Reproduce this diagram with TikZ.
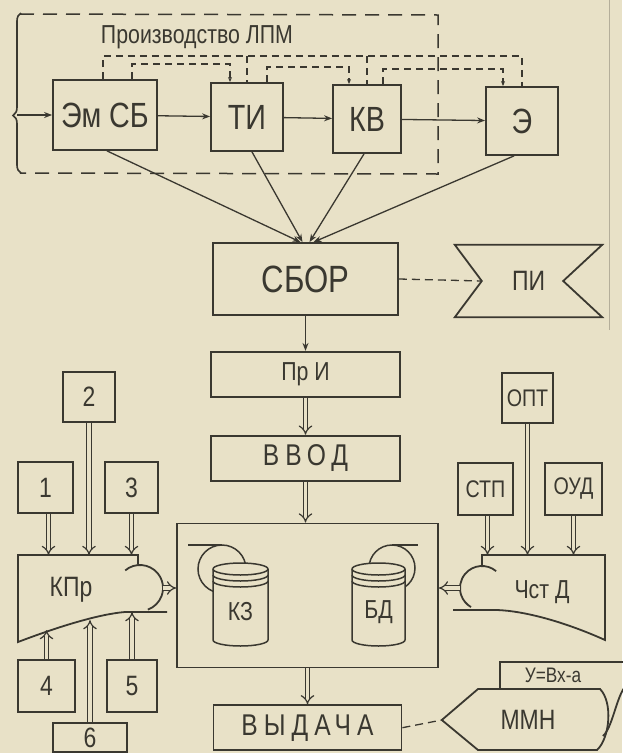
\documentclass[tikz,border=0pt]{standalone}
\usepackage{fontspec}
\setmainfont{Liberation Sans}[FakeStretch=0.82]
\newfontfamily\spacedfont{Liberation Sans}[FakeStretch=0.82, LetterSpace=20]
\usepackage{tikz}
\usetikzlibrary{arrows.meta, positioning, decorations.pathreplacing}
\definecolor{paper}{RGB}{232,225,199}
\definecolor{ink}{RGB}{58,56,48}
\tikzset{
  unitbox/.style={rectangle, draw=ink, fill=paper, text=ink,
    inner sep=0pt, align=center, line width=1.8pt},
  toptext/.style={font=\fontsize{35}{38}\selectfont},
  sbortext/.style={font=\fontsize{38}{40}\selectfont},
  midtext/.style={font=\fontsize{28}{30}\selectfont},
  smalltext/.style={font=\fontsize{26}{28}\selectfont},
  tinytext/.style={font=\fontsize{24}{26}\selectfont},
  spacedtext/.style={font=\spacedfont\fontsize{30}{32}\selectfont},
  shapeline/.style={draw=ink, line width=1.8pt},
  arrow/.style={-{Stealth[length=8pt,width=6pt]}, line width=1.3pt, color=ink},
  fbline/.style={dash pattern=on 7pt off 5pt, line width=1.3pt, color=ink},
  fbarrow/.style={fbline, -{Stealth[length=5pt,width=4pt]}},
  linkline/.style={dash pattern=on 8pt off 5pt, line width=1.3pt, color=ink},
  dblarrow/.style={-{Implies}, double=paper, double distance=3.5pt,
    line width=1.2pt, color=ink}
}

\begin{document}
\begin{tikzpicture}[x=1pt, y=-1pt,
  groupline/.style={dash pattern=on 14pt off 9pt, line width=1.5pt, color=ink},
  cyl/.style={draw=ink, fill=paper, line width=1.5pt}
]
  \fill[paper] (0,0) rectangle (622,753);
  \useasboundingbox (0,0) rectangle (622,753);
  \draw[ink!30!paper, line width=1pt] (609,0) -- (609,330);

  % production of LPM
  \draw[groupline] (20,14) -- (438,15) -- (438,174) -- (20,173);
  \draw[ink, line width=1.6pt, decorate,
    decoration={brace, amplitude=8pt, aspect=0.36}] (21,173) -- (21,13);
  \coordinate (lpm) at (17,115);
  \node[text=ink, font=\fontsize{26}{28}\selectfont] (lpmtitle) at (197,37) {Производство ЛПМ};

  \coordinate (busA) at (0,56);
  \node[unitbox, toptext, minimum width=104pt, minimum height=70pt] (emsb) at (105,115) {Эм СБ};
  \node[unitbox, toptext, minimum width=72pt, minimum height=68pt] (ti) at (247,117) {ТИ};
  \node[unitbox, toptext, minimum width=68pt, minimum height=68pt] (kv) at (367,119) {КВ};
  \node[unitbox, toptext, minimum width=72pt, minimum height=68pt] (ekt) at (522,121) {Э};

  \draw[fbline] ([xshift=-2pt]emsb.north) |- (ekt.north |- busA) -- (ekt.north);
  \draw[fbline] (ti.north |- busA) -- (ti.north);
  \draw[fbline] (kv.north |- busA) -- (kv.north);
  \draw[fbarrow] ([xshift=27pt]emsb.north) -- ++(0,-15) -| ([xshift=-17pt]ti.north);
  \draw[fbarrow] ([xshift=20pt]ti.north) -- ++(0,-15) -| ([xshift=-18pt]kv.north);
  \draw[fbarrow] ([xshift=16pt]kv.north) -- ++(0,-15) -| ([xshift=-19pt]ekt.north);

  \draw[arrow] (lpm) -- (emsb);
  \draw[arrow] (emsb) -- (ti);
  \draw[arrow] (ti) -- (kv);
  \draw[arrow] (kv) -- (ekt);

  % collection
  \node[unitbox, sbortext, minimum width=185pt, minimum height=72pt] (sbor) at (305.5,279) {СБОР};
  \draw[arrow] ([xshift=2pt]emsb.south) -- ([xshift=-5pt]sbor.north);
  \draw[arrow] ([xshift=5pt]ti.south) -- ([xshift=-3pt]sbor.north);
  \draw[arrow] ([xshift=-3pt]kv.south) -- ([xshift=4pt]sbor.north);
  \draw[arrow] ([xshift=-8pt]ekt.south) -- ([xshift=8pt]sbor.north);

  \node[midtext, text=ink, inner sep=0pt, minimum width=147pt, minimum height=72pt] (pi) at (528.5,281) {ПИ};
  \draw[shapeline] (pi.north west) -- (pi.north east) -- ([xshift=-39pt]pi.east)
    -- (pi.south east) -- (pi.south west) -- ([xshift=27pt]pi.west) -- cycle;
  \draw[linkline] (sbor.east) -- ([xshift=27pt]pi.west);

  % main column
  \node[unitbox, smalltext, minimum width=189pt, minimum height=45pt, below=35pt of sbor] (pri) {Пр И};
  \node[unitbox, spacedtext, minimum width=189pt, minimum height=45pt, below=37pt of pri] (vvod) {ВВОД};
  \node[unitbox, minimum width=261pt, minimum height=144pt, below=41pt of vvod, xshift=2pt] (bank) {};
  \node[unitbox, spacedtext, minimum width=188pt, minimum height=45pt, below=36pt of bank] (vydacha) {ВЫДАЧА};

  \draw[arrow] (sbor) -- (pri);
  \draw[dblarrow] (pri) -- (vvod);
  \draw[dblarrow] (vvod.south) -- (vvod.south |- bank.north);
  \draw[dblarrow] (bank.south -| vydacha.north) -- (vydacha.north);

  % disk stores
  \draw[cyl] (222,569) circle[radius=24pt];
  \draw[shapeline] (188,545) -- (222,545);
  \filldraw[cyl] (213,569) -- (213,640) arc[start angle=180, end angle=360, x radius=27.5pt, y radius=6pt]
    -- (268,569) arc[start angle=0, end angle=180, x radius=27.5pt, y radius=6pt] -- cycle;
  \draw[cyl, fill=none] (213,569) arc[start angle=180, end angle=360, x radius=27.5pt, y radius=6pt];
  \draw[cyl, fill=none] (213,575) arc[start angle=180, end angle=360, x radius=27.5pt, y radius=6pt];
  \draw[cyl, fill=none] (213,581) arc[start angle=180, end angle=360, x radius=27.5pt, y radius=6pt];
  \node[smalltext, text=ink] (kz) at (240.5,612) {КЗ};

  \draw[cyl] (392,568) circle[radius=23pt];
  \draw[shapeline] (392,545) -- (418,545);
  \filldraw[cyl] (352,569) -- (352,640) arc[start angle=180, end angle=360, x radius=26.5pt, y radius=6pt]
    -- (405,569) arc[start angle=0, end angle=180, x radius=26.5pt, y radius=6pt] -- cycle;
  \draw[cyl, fill=none] (352,569) arc[start angle=180, end angle=360, x radius=26.5pt, y radius=6pt];
  \draw[cyl, fill=none] (352,575) arc[start angle=180, end angle=360, x radius=26.5pt, y radius=6pt];
  \draw[cyl, fill=none] (352,581) arc[start angle=180, end angle=360, x radius=26.5pt, y radius=6pt];
  \node[smalltext, text=ink] (bd) at (378.5,612) {БД};

  % input preparation
  \draw[shapeline] (138,564) -- (138,555) -- (18,555) -- (18,642)
    .. controls (60,626) and (100,614) .. (125,612) -- (167,612);
  \draw[shapeline] (140,588) ++(130:23pt) arc[start angle=130, end angle=-70, radius=23pt];
  \node[midtext, text=ink] (kpr) at (71,590) {КПр};
  \coordinate (kprport) at (163,588);
  \coordinate (kprtop) at (0,555);
  \draw[dblarrow] (kprport) -- (kprport -| bank.west);

  \node[unitbox, midtext, minimum width=52pt, minimum height=50pt] (b2) at (89,397) {2};
  \node[unitbox, midtext, minimum width=55pt, minimum height=51pt] (b1) at (45.5,487.5) {1};
  \node[unitbox, midtext, minimum width=53pt, minimum height=51pt] (b3) at (131.5,487.5) {3};
  \node[unitbox, midtext, minimum width=57pt, minimum height=52pt] (b4) at (46.5,686) {4};
  \node[unitbox, midtext, minimum width=50pt, minimum height=52pt] (b5) at (132,686) {5};
  \node[unitbox, midtext, minimum width=74pt, minimum height=29pt] (b6) at (90,737.5) {6};

  \draw[dblarrow] ([xshift=3pt]b1.south) -- ([xshift=3pt]b1.south |- kprtop);
  \draw[dblarrow] (b2.south) -- (b2.south |- kprtop);
  \draw[dblarrow] (b3.south) -- (b3.south |- kprtop);
  \draw[dblarrow] (b4.north) -- ++(0,-29);
  \draw[dblarrow] (b6.north) -- ++(0,-102);
  \draw[dblarrow] (b5.north) -- ++(0,-47);

  % reading of data
  \node[unitbox, tinytext, minimum width=51pt, minimum height=50pt] (opt) at (527.5,398) {ОПТ};
  \node[unitbox, tinytext, minimum width=55pt, minimum height=52pt] (stp) at (485.5,489) {СТП};
  \node[unitbox, tinytext, minimum width=57pt, minimum height=52pt] (oud) at (573.5,489) {ОУД};

  \draw[shapeline] (482,566) -- (482,555) -- (605,555) -- (605,640)
    .. controls (565,622) and (525,611) .. (497,610) -- (453,610);
  \draw[shapeline] (482,588) ++(50:22pt) arc[start angle=50, end angle=240, radius=22pt];
  \node[smalltext, text=ink] (chst) at (542,592) {Чст Д};
  \coordinate (chstport) at (460,588);
  \coordinate (chsttop) at (0,555);
  \draw[dblarrow] (chstport) -- (chstport -| bank.east);

  \draw[dblarrow] ([xshift=2pt]stp.south) -- ([xshift=2pt]stp.south |- chsttop);
  \draw[dblarrow] (opt.south) -- (opt.south |- chsttop);
  \draw[dblarrow] (oud.south) -- (oud.south |- chsttop);

  % output
  \node[midtext, text=ink, inner sep=0pt, minimum width=172pt, minimum height=61pt] (mmn) at (528,720) {ММН};
  \draw[shapeline] (mmn.west) -- (478,689) -- (600,689)
    .. controls (613,702) and (610,738) .. (597,750) -- (478,750) -- cycle;
  \draw[linkline] (vydacha.east) -- (mmn.west);
  \draw[shapeline] (500,689) -- (500,662) -- (624,662);
  \node[font=\fontsize{21}{23}\selectfont, text=ink] (formula) at (553,675) {У=Вх-а};
  \draw[shapeline] (603,736) .. controls (612,728) and (616,700) .. (624,688);
\end{tikzpicture}
\end{document}
